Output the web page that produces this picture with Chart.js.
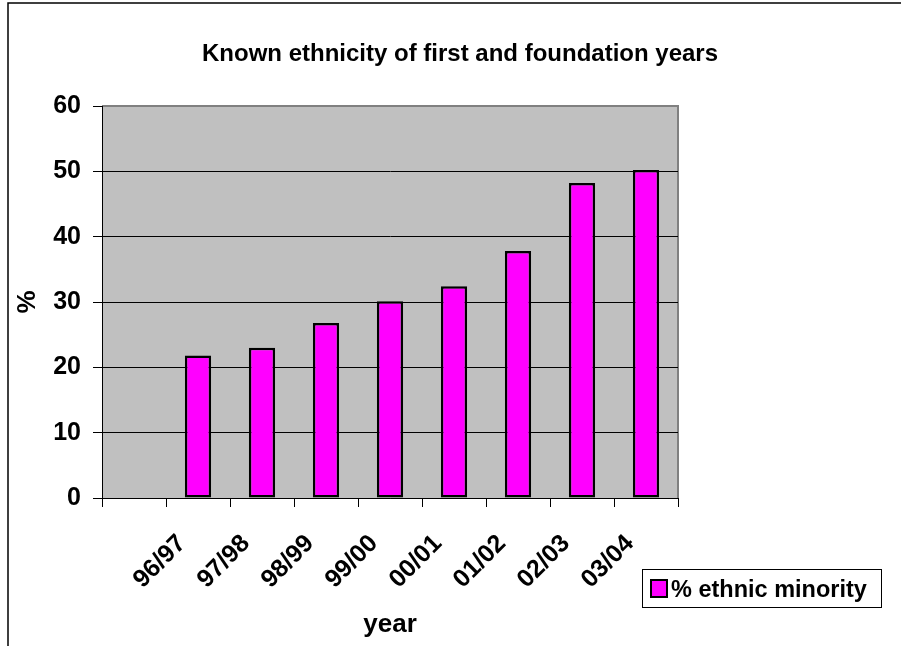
<!DOCTYPE html>
<html>
<head>
<meta charset="utf-8">
<title>Known ethnicity of first and foundation years</title>
<script src="https://cdn.jsdelivr.net/npm/chart.js@4.4.0/dist/chart.umd.min.js"></script>
<style>
  html, body { margin: 0; padding: 0; background: #fff; }
  #wrap { width: 901px; height: 646px; position: relative; }
</style>
</head>
<body>
<div id="wrap"><canvas id="ethnicity-chart"></canvas></div>
<script>
// data (first slot is empty in the original)
const yearLabels = ['', '96/97', '97/98', '98/99', '99/00', '00/01', '01/02', '02/03', '03/04'];
const ethnicMinority = [null, 21.8, 23.0, 26.8, 30.1, 32.4, 37.8, 48.2, 50.2];
const seriesName = '% ethnic minority';
const chartTitle = 'Known ethnicity of first and foundation years';

const FONT = "'Liberation Sans', Arial, sans-serif";

//background, outer frame, plot fill, title
const framePlugin = {
    id: 'frame',
    beforeDraw(chart) {
        const ctx = chart.ctx;
        const a = chart.chartArea;
        ctx.save();
        ctx.fillStyle = '#fff';
        ctx.fillRect(0, 0, chart.width, chart.height);
        ctx.strokeStyle = '#000';
        ctx.lineWidth = 1.5;
        ctx.strokeRect(8, 3, chart.width + 20, chart.height + 20);
        ctx.fillStyle = '#C0C0C0';
        ctx.fillRect(a.left, a.top, a.right - a.left, a.bottom - a.top);
        ctx.strokeStyle = '#808080';
        ctx.lineWidth = 2;
        ctx.beginPath();
        ctx.moveTo(a.left, a.top);
        ctx.lineTo(a.right, a.top);
        ctx.lineTo(a.right, a.bottom);
        ctx.stroke();
        //title sits over the whole chart, not only the plot
        ctx.fillStyle = '#000';
        ctx.font = 'bold 24px ' + FONT;
        ctx.textAlign = 'center';
        ctx.textBaseline = 'alphabetic';
        ctx.fillText(chartTitle, 460, 61);
        ctx.restore();
    }
};

//legend box in the bottom right corner
const legendPlugin = {
    id: 'boxLegend',
    afterDraw(chart) {
        const ctx = chart.ctx;
        const ds = chart.data.datasets[0];
        ctx.save();
        ctx.fillStyle = '#fff';
        ctx.fillRect(642, 569, 239, 38);
        ctx.strokeStyle = '#000';
        ctx.lineWidth = 1;
        ctx.strokeRect(642.5, 569.5, 239, 38);
        ctx.fillStyle = ds.backgroundColor;
        ctx.fillRect(651, 580, 16, 17);
        ctx.strokeStyle = '#000';
        ctx.lineWidth = 2;
        ctx.strokeRect(651, 580, 16, 17);
        ctx.fillStyle = '#000';
        ctx.font = 'bold 23.5px ' + FONT;
        ctx.textBaseline = 'alphabetic';
        ctx.fillText(ds.label, 671, 597);
        ctx.restore();
    }
};

const ctxEl = document.getElementById('ethnicity-chart');

new Chart(ctxEl, {
    type: 'bar',
    data: {
        labels: yearLabels,
        datasets: [{
            label: seriesName,
            data: ethnicMinority,
            backgroundColor: '#FF00FF',
            borderColor: '#000',
            borderWidth: 2.5,
            borderSkipped: false,
            categoryPercentage: 1,
            barPercentage: 0.41
        }]
    },
    options: {
        responsive: true,
        maintainAspectRatio: false,
        animation: false,
        layout: { padding: { left: 10, top: 106, right: 223, bottom: 0 } },
        plugins: {
            legend: { display: false },
            tooltip: { enabled: false },
            title: { display: false }
        },
        scales: {
            x: {
                grid: { drawOnChartArea: false, drawTicks: true, tickLength: 9, color: '#000', lineWidth: 1 },
                border: { display: true, color: '#000', width: 1 },
                ticks: {
                    color: '#000',
                    font: { family: FONT, size: 25, weight: 'bold' },
                    minRotation: 45,
                    maxRotation: 45,
                    autoSkip: false,
                    labelOffset: -16,
                    padding: 22
                },
                title: {
                    display: true,
                    text: 'year',
                    color: '#000',
                    font: { family: FONT, size: 26, weight: 'bold' },
                    padding: { top: 0, bottom: 6 }
                },
                afterFit(scale) { scale.height = 148; }
            },
            y: {
                min: 0,
                max: 60,
                grid: {
                    color: (c) => (c.tick && c.tick.value === 60 ? 'rgba(0,0,0,0)' : '#000'),
                    tickColor: '#000',
                    lineWidth: 1,
                    tickLength: 9
                },
                border: { display: true, color: '#000', width: 1 },
                ticks: {
                    stepSize: 10,
                    color: '#000',
                    font: { family: FONT, size: 25, weight: 'bold' },
                    padding: 12
                },
                title: {
                    display: true,
                    text: '%',
                    color: '#000',
                    font: { family: FONT, size: 26, weight: 'bold' },
                    padding: { top: 2, bottom: 0 }
                },
                afterFit(scale) { scale.width = 92; }
            }
        }
    },
    plugins: [framePlugin, legendPlugin]
});
</script>
</body>
</html>
